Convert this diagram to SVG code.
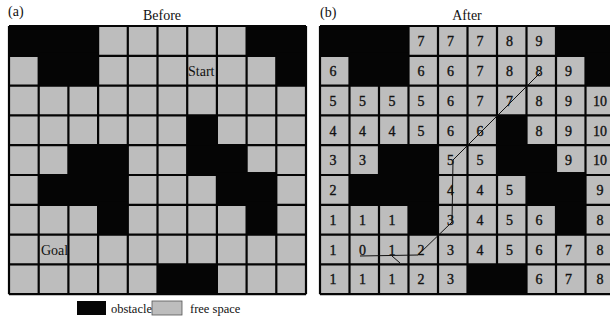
<svg xmlns="http://www.w3.org/2000/svg" xmlns:xlink="http://www.w3.org/1999/xlink" width="610" height="323" viewBox="0 0 610 323">
<style>
text{font-family:"Liberation Serif","Times New Roman",serif;fill:#111}
.lbl{font-size:14px}
.leg{font-size:12.5px}
.num{font-size:14px;text-anchor:middle;stroke:#111;stroke-width:0.35}
.obs{fill:#050505}
.grid{fill:none;stroke:#050505;stroke-width:2.2}
.path{fill:none;stroke:#111;stroke-width:1}
</style>
<defs>
<g id="board">
<rect x="0" y="0" width="10" height="9" fill="#bdbdbd"/>
<path class="grid" vector-effect="non-scaling-stroke" d="M0,0V9M1,0V9M2,0V9M3,0V9M4,0V9M5,0V9M6,0V9M7,0V9M8,0V9M9,0V9M10,0V9M0,0H10M0,1H10M0,2H10M0,3H10M0,4H10M0,5H10M0,6H10M0,7H10M0,8H10M0,9H10"/>
<g class="obs">
<rect x="0" y="0" width="3" height="1"/>
<rect x="1" y="0.9" width="2" height="1.1"/>
<rect x="8" y="0" width="2" height="1"/>
<rect x="9" y="0.9" width="1" height="1.1"/>
<rect x="6" y="3" width="1" height="1.1"/>
<rect x="2" y="4" width="2" height="1.1"/>
<rect x="6" y="4" width="2" height="1"/>
<rect x="1" y="5" width="3" height="1"/>
<rect x="7" y="4.9" width="2" height="1.1"/>
<rect x="3" y="5.9" width="1" height="1.1"/>
<rect x="8" y="5.9" width="1" height="1.1"/>
<rect x="5" y="8" width="2" height="1"/>
</g>
</g>
</defs>

<g id="panel-a">
<text class="lbl" x="8" y="16">(a)</text>
<text class="lbl" x="162" y="20" text-anchor="middle">Before</text>
<use xlink:href="#board" href="#board" transform="translate(9,26) scale(29.7,29.8)"/>
<text class="lbl" x="188" y="76">Start</text>
<text class="lbl" x="41" y="255">Goal</text>
</g>

<g id="panel-b">
<text class="lbl" x="320" y="17">(b)</text>
<text class="lbl" x="467" y="20" text-anchor="middle">After</text>
<use xlink:href="#board" href="#board" transform="translate(320,26) scale(29.5,29.8)"/>
<g id="values">
<text class="num" x="421" y="46">7</text><text class="num" x="450.5" y="46">7</text><text class="num" x="480" y="46">7</text><text class="num" x="509.5" y="46">8</text><text class="num" x="539" y="46">9</text>
<text class="num" x="333" y="76">6</text><text class="num" x="421" y="76">6</text><text class="num" x="450.5" y="76">6</text><text class="num" x="480" y="76">7</text><text class="num" x="509.5" y="76">8</text><text class="num" x="539" y="76">8</text><text class="num" x="568.5" y="76">9</text>
<text class="num" x="333" y="105.5">5</text><text class="num" x="362.5" y="105.5">5</text><text class="num" x="392" y="105.5">5</text><text class="num" x="421" y="105.5">5</text><text class="num" x="450.5" y="105.5">6</text><text class="num" x="480" y="105.5">7</text><text class="num" x="509.5" y="105.5">7</text><text class="num" x="539" y="105.5">8</text><text class="num" x="568.5" y="105.5">9</text><text class="num" x="600" y="105.5">10</text>
<text class="num" x="333" y="135.5">4</text><text class="num" x="362.5" y="135.5">4</text><text class="num" x="392" y="135.5">4</text><text class="num" x="421" y="135.5">5</text><text class="num" x="450.5" y="135.5">6</text><text class="num" x="480" y="135.5">6</text><text class="num" x="539" y="135.5">8</text><text class="num" x="568.5" y="135.5">9</text><text class="num" x="600" y="135.5">10</text>
<text class="num" x="333" y="165">3</text><text class="num" x="362.5" y="165">3</text><text class="num" x="450.5" y="165">5</text><text class="num" x="480" y="165">5</text><text class="num" x="568.5" y="165">9</text><text class="num" x="600" y="165">10</text>
<text class="num" x="333" y="195">2</text><text class="num" x="450.5" y="195">4</text><text class="num" x="480" y="195">4</text><text class="num" x="509.5" y="195">5</text><text class="num" x="600" y="195">9</text>
<text class="num" x="333" y="224.5">1</text><text class="num" x="362.5" y="224.5">1</text><text class="num" x="392" y="224.5">1</text><text class="num" x="450.5" y="224.5">3</text><text class="num" x="480" y="224.5">4</text><text class="num" x="509.5" y="224.5">5</text><text class="num" x="539" y="224.5">6</text><text class="num" x="600" y="224.5">8</text>
<text class="num" x="333" y="254.5">1</text><text class="num" x="362.5" y="254.5">0</text><text class="num" x="392" y="254.5">1</text><text class="num" x="421" y="254.5">2</text><text class="num" x="450.5" y="254.5">3</text><text class="num" x="480" y="254.5">4</text><text class="num" x="509.5" y="254.5">5</text><text class="num" x="539" y="254.5">6</text><text class="num" x="568.5" y="254.5">7</text><text class="num" x="600" y="254.5">8</text>
<text class="num" x="333" y="284">1</text><text class="num" x="362.5" y="284">1</text><text class="num" x="392" y="284">1</text><text class="num" x="421" y="284">2</text><text class="num" x="450.5" y="284">3</text><text class="num" x="539" y="284">6</text><text class="num" x="568.5" y="284">7</text><text class="num" x="600" y="284">8</text>
</g>
</g>

<g id="connectors">
<path class="path" d="M540,73 L453,160 L452,222 L418,255 L360,256"/>
<path class="path" d="M392,256 L400,263"/>
</g>

<g id="legend">
<rect x="77" y="301" width="29" height="14" class="obs"/>
<text class="leg" x="111" y="313">obstacle</text>
<rect x="152" y="301" width="30" height="14" fill="#bdbdbd" stroke="#555" stroke-width="0.8"/>
<text class="leg" x="190" y="313">free space</text>
</g>
</svg>
